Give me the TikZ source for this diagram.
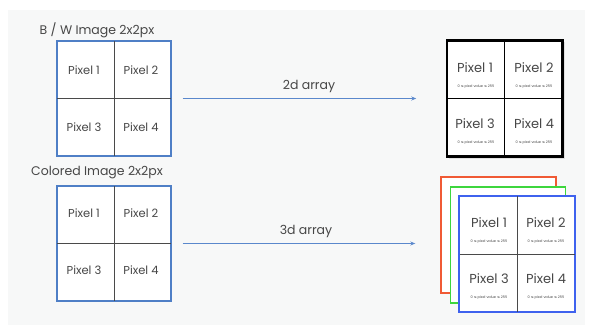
\documentclass[tikz,border=0pt]{standalone}
\usepackage{fontspec}
\setmainfont{Poppins}
\newfontfamily\symf{DejaVu Sans}
\usetikzlibrary{arrows.meta}
\definecolor{panel}{HTML}{F7F8F8}
\definecolor{gridblue}{HTML}{4F7FC6}
\definecolor{arrowblue}{HTML}{5A88CC}
\definecolor{inner}{HTML}{4A4A4A}
\definecolor{txt}{HTML}{474747}
\definecolor{rred}{HTML}{F05A35}
\definecolor{rgreen}{HTML}{3DD63D}
\definecolor{rblue}{HTML}{3F62EE}
\newcommand{\myle}{{\symf ≤}}
\tikzset{
  gridbox/.style={draw=gridblue, line width=1.3pt, fill=white, minimum width=114pt, minimum height=115pt, inner sep=0pt},
  blackbox/.style={draw=black, line width=1.5pt, fill=white, minimum width=115pt, minimum height=115pt, inner sep=0pt},
  layer/.style={line width=1.4pt, fill=white, minimum width=115pt, minimum height=116pt, inner sep=0pt},
  cell/.style={text=txt, font=\fontsize{11.5}{13}\selectfont, inner sep=0pt},
  bigcell/.style={text=txt, font=\fontsize{13}{15}\selectfont, inner sep=0pt},
  tiny/.style={text=txt, font=\fontsize{3.5}{4}\selectfont, inner sep=0pt},
  title/.style={text=txt, font=\fontsize{12.5}{15}\selectfont, inner sep=0pt},
  divider/.style={draw=inner, line width=1pt},
  conn/.style={draw=arrowblue, line width=1.2pt, -{Stealth[length=5pt,width=4pt]}},
}
\begin{document}
\begin{tikzpicture}[x=1pt,y=-1pt]
\useasboundingbox (0,0) rectangle (592,329);
\fill[panel] (8,10) rectangle (585,325);

% ---- B/W left grid
\node[title] (t1) at (97,30) {B / W Image 2x2px};
\node[gridbox] (g1) at (114,98.5) {};
\draw[divider] (g1.north) -- (g1.south);
\draw[divider] (g1.west) -- (g1.east);
\draw[draw=gridblue, line width=1.3pt] (g1.north west) rectangle (g1.south east);
\node[cell] (g1a) at (84,70) {Pixel 1};
\node[cell] (g1b) at (141,70) {Pixel 2};
\node[cell] (g1c) at (84,127) {Pixel 3};
\node[cell] (g1d) at (141,127) {Pixel 4};

% ---- Colored left grid
\node[title] (t2) at (97,173) {Colored Image 2x2px};
\node[gridbox] (g2) at (114,243.5) {};
\draw[divider] (g2.north) -- (g2.south);
\draw[divider] (g2.west) -- (g2.east);
\draw[draw=gridblue, line width=1.3pt] (g2.north west) rectangle (g2.south east);
\node[cell] (g2a) at (84,213) {Pixel 1};
\node[cell] (g2b) at (141,213) {Pixel 2};
\node[cell] (g2c) at (84,270) {Pixel 3};
\node[cell] (g2d) at (141,270) {Pixel 4};

% ---- right top 2d array
\fill[black!12] (448.5,42.5) rectangle (564.5,158.5);
\node[blackbox] (r1) at (504.5,98.5) {};
\draw[draw=black, line width=1pt] (r1.north) -- (r1.south);
\draw[draw=black, line width=1pt] (r1.west) -- (r1.east);
\draw[draw=black, line width=1.5pt] (r1.north west) rectangle (r1.south east);
\node[bigcell] (r1a) at (475,68) {Pixel 1};
\node[bigcell] (r1b) at (534,68) {Pixel 2};
\node[bigcell] (r1c) at (475,124) {Pixel 3};
\node[bigcell] (r1d) at (534,124) {Pixel 4};
\node[tiny] (r1as) at (476,87) {0 \myle{} pixel value \myle{} 255};
\node[tiny] (r1bs) at (534,87) {0 \myle{} pixel value \myle{} 255};
\node[tiny] (r1cs) at (476,143) {0 \myle{} pixel value \myle{} 255};
\node[tiny] (r1ds) at (534,143) {0 \myle{} pixel value \myle{} 255};

% ---- right bottom 3d array
\node[layer, draw=rred] (lr) at (498.5,235) {};
\node[layer, draw=rgreen] (lg) at (508,245) {};
\node[layer, draw=rblue] (lb) at (517,254) {};
\draw[divider] (lb.north) -- (lb.south);
\draw[divider] (lb.west) -- (lb.east);
\draw[draw=rblue, line width=1.4pt] (lb.north west) rectangle (lb.south east);
\node[bigcell] (lba) at (489,223) {Pixel 1};
\node[bigcell] (lbb) at (546,223) {Pixel 2};
\node[bigcell] (lbc) at (489,279) {Pixel 3};
\node[bigcell] (lbd) at (546,279) {Pixel 4};
\node[tiny] (lbas) at (489,242) {0 \myle{} pixel value \myle{} 255};
\node[tiny] (lbbs) at (546,242) {0 \myle{} pixel value \myle{} 255};
\node[tiny] (lbcs) at (489,298) {0 \myle{} pixel value \myle{} 255};
\node[tiny] (lbds) at (546,298) {0 \myle{} pixel value \myle{} 255};

% ---- arrows
\draw[conn, shorten <=11pt, shorten >=30pt] (g1.east) -- node[above=5pt, title] (a1) {2d array} (g1.east -| r1.west);
\draw[conn, shorten <=11pt, shorten >=25pt] (g2.east) -- node[above=5pt, title] (a2) {3d array} (g2.east -| lr.west);
\end{tikzpicture}
\end{document}
